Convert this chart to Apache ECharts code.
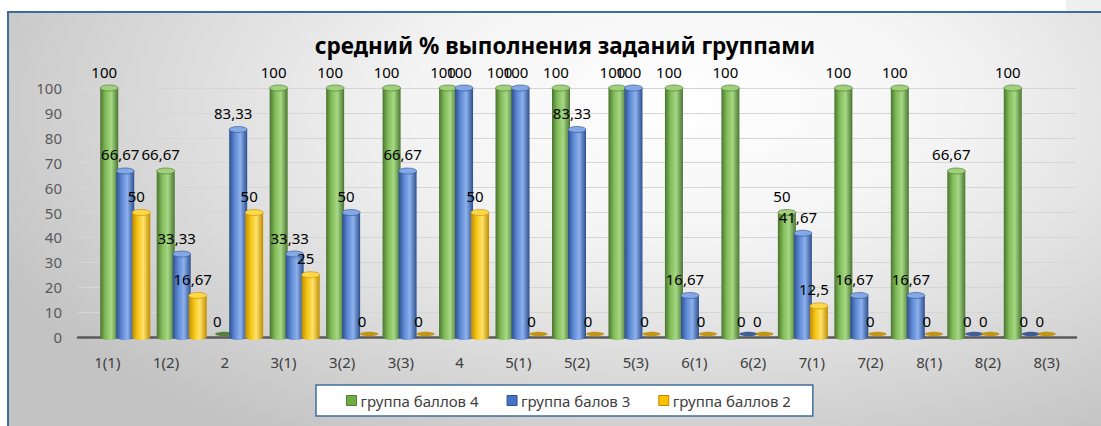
<!DOCTYPE html>
<html>
<head>
<meta charset="utf-8">
<script src="https://cdn.jsdelivr.net/npm/echarts@6/dist/echarts.min.js"></script>
<style>
  html, body { margin: 0; padding: 0; background: #ffffff; width: 1101px; height: 426px; overflow: hidden; }
  #corner { position: absolute; left: 1066px; top: 0; width: 35px; height: 11px; background: #efefef; }
  #frame {
    position: absolute; left: 7px; top: 11px; width: 1094px; height: 415px; box-sizing: border-box;
    border-left: 2px solid #3f6d9b; border-top: 2px solid #3f6d9b;
    background: radial-gradient(ellipse 70% 95% at 62% 22%, #ffffff 0%, #f4f4f4 35%, #c3c3c3 100%);
  }
  #chart { position: absolute; left: 0; top: 0; width: 1101px; height: 426px; }
</style>
</head>
<body>
<div id="corner"></div>
<div id="frame"></div>
<div id="chart"></div>
<script>
// Task numbers along the horizontal axis
const categories = ['1(1)', '1(2)', '2', '3(1)', '3(2)', '3(3)', '4', '5(1)', '5(2)', '5(3)', '6(1)', '6(2)', '7(1)', '7(2)', '8(1)', '8(2)', '8(3)'];

// Average completion, %, per score group
const group4 = [100, 66.67, 0, 100, 100, 100, 100, 100, 100, 100, 100, 100, 50, 100, 100, 66.67, 100];
const group3 = [66.67, 33.33, 83.33, 33.33, 50, 66.67, 100, 100, 83.33, 100, 16.67, 0, 41.67, 16.67, 16.67, 0, 0];
const group2 = [50, 16.67, 50, 25, 0, 0, 50, 0, 0, 0, 0, 0, 12.5, 0, 0, 0, 0];

const seriesNames = ['группа баллов 4', 'группа балов 3', 'группа баллов 2'];
const titleText = 'средний % выполнения заданий группами';

// value axis range
const yMin = 0, yMax = 100, yStep = 10;

// cylinder look: edge / mid / highlight / cap colours per group
const palette = [
  { base: '#70ad47', edge: '#4a7530', mid: '#82bc59', light: '#a6d885', cap: '#a0d07c', line: '#507e32' },
  { base: '#4472c4', edge: '#2d4f8e', mid: '#5d88d4', light: '#8db1ed', cap: '#84a7e5', line: '#2f528f' },
  { base: '#ffc000', edge: '#c08d00', mid: '#f5c515', light: '#ffe26a', cap: '#ffd84a', line: '#bc8c00' }
];

const BAR_W = 18;
const BAR_STEP = 16;       // distance between neighbouring bar centres within a category
const FONT = '"Noto Sans", "Open Sans", sans-serif';

const fmt = v => String(v).replace('.', ',');

function bodyGradient(p) {
  return new echarts.graphic.LinearGradient(0, 0, 1, 0, [
    { offset: 0, color: p.edge },
    { offset: 0.3, color: p.mid },
    { offset: 0.62, color: p.light },
    { offset: 1, color: p.edge }
  ]);
}

const groups = [group4, group3, group2];

const barSeries = groups.map((vals, s) => ({
  name: seriesNames[s],
  type: 'bar',
  xAxisIndex: 0,
  yAxisIndex: 0,
  data: vals,
  barWidth: BAR_W,
  barGap: ((BAR_STEP - BAR_W) / BAR_W * 100).toFixed(1) + '%',
  barCategoryGap: '20%',
  itemStyle: { color: bodyGradient(palette[s]) },
  label: {
    show: true,
    position: 'top',
    distance: 9,
    offset: [-5, 0],
    fontFamily: FONT,
    fontSize: 15,
    color: '#000000',
    formatter: p => fmt(p.value)
  },
  z: 3 + s
}));

// elliptical caps (top and base) that turn each column into a cylinder
const capSeries = groups.map((vals, s) => ({
  name: seriesNames[s],
  type: 'custom',
  xAxisIndex: 0,
  yAxisIndex: 0,
  data: vals.map((v, i) => [i, v]),
  encode: { x: 0, y: 1 },
  silent: true,
  z: 3 + s,
  renderItem: (params, api) => {
    const p = palette[s];
    const v = api.value(1);
    const top = api.coord([api.value(0), v]);
    const base = api.coord([api.value(0), 0]);
    const cx = top[0] + (s - 1) * BAR_STEP;
    const rx = BAR_W / 2;
    const children = [];
    if (v > 0) {
      children.push({
        type: 'ellipse',
        shape: { cx: cx, cy: base[1], rx: rx, ry: 3 },
        style: { fill: bodyGradient(p) },
        z2: 1
      });
      children.push({
        type: 'ellipse',
        shape: { cx: cx, cy: top[1], rx: rx, ry: 3 },
        style: { fill: p.cap, stroke: p.edge, lineWidth: 0.6 },
        z2: 2
      });
    } else {
      children.push({
        type: 'ellipse',
        shape: { cx: cx + 2, cy: base[1] - 3, rx: rx, ry: 2.2 },
        style: { fill: p.edge, opacity: 0.9 },
        z2: 1
      });
    }
    return { type: 'group', children: children };
  }
}));

const chart = echarts.init(document.getElementById('chart'), null, { renderer: 'svg' });

chart.setOption({
  backgroundColor: 'transparent',
  animation: false,
  title: {
    text: titleText,
    left: 560,
    textAlign: 'center',
    top: 29,
    textStyle: { fontFamily: FONT, fontSize: 22.5, fontWeight: 'bold', color: '#000000' }
  },
  legend: {
    left: 316,
    top: 385,
    padding: [8, 22, 8, 30],
    itemGap: 28,
    itemWidth: 10,
    itemHeight: 10,
    icon: 'rect',
    backgroundColor: '#ffffff',
    borderColor: '#3f6d9b',
    borderWidth: 1.5,
    textStyle: { fontFamily: FONT, fontSize: 15, color: '#404040', padding: [0, 0, 0, -1] },
    data: seriesNames.map((n, s) => ({
      name: n,
      itemStyle: { color: palette[s].base, borderColor: palette[s].line, borderWidth: 1 }
    }))
  },
  grid: [
    { left: 97, right: 44, top: 88, bottom: 89 },   // columns
    { left: 78, right: 25, top: 88, bottom: 89 }    // axes, labels and gridlines
  ],
  xAxis: [
    { type: 'category', gridIndex: 0, data: categories, show: false },
    {
      type: 'category', gridIndex: 1, data: categories,
      axisLine: { show: true, lineStyle: { color: '#5a5a5a', width: 2.5 } },
      axisTick: { show: false },
      axisLabel: { fontFamily: FONT, fontSize: 15, color: '#404040', margin: 17 }
    }
  ],
  yAxis: [
    { type: 'value', gridIndex: 0, min: yMin, max: yMax, interval: yStep, show: false },
    {
      type: 'value', gridIndex: 1, min: yMin, max: yMax, interval: yStep,
      axisLine: { show: false },
      axisTick: { show: false },
      axisLabel: { fontFamily: FONT, fontSize: 15, color: '#595959', margin: 16 },
      splitLine: { lineStyle: { color: '#d6d6d6', width: 1.2 } }
    }
  ],
  series: [...barSeries, ...capSeries]
});
</script>
</body>
</html>
